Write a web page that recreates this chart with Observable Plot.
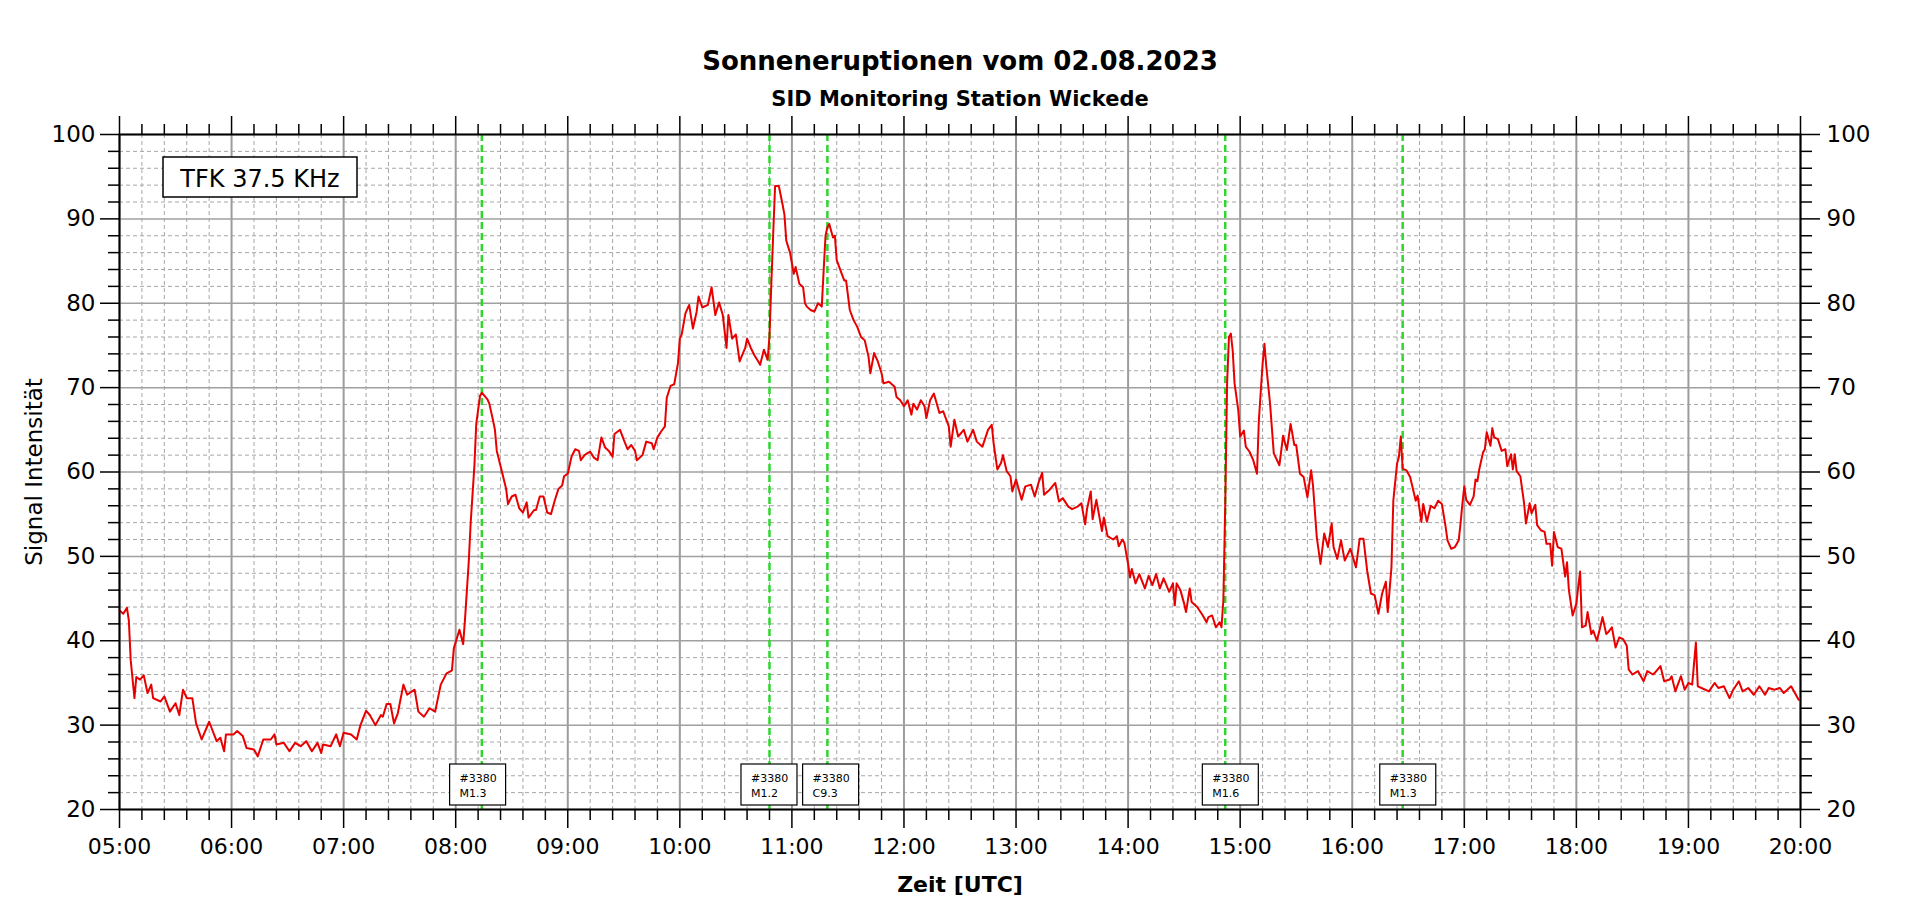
<!DOCTYPE html>
<html><head><meta charset="utf-8">
<script src="https://cdn.jsdelivr.net/npm/d3@7"></script>
<script src="https://cdn.jsdelivr.net/npm/@observablehq/plot@0.6"></script>
<style>
html,body{margin:0;padding:0;background:#fff;}
#chart svg{display:block;}
</style></head><body><div id="chart"></div>
<script>
const times = ["05:00","05:02","05:04","05:05","05:06","05:08","05:09","05:11","05:13","05:15","05:17","05:18","05:22","05:24","05:27","05:30","05:32","05:34","05:36","05:39","05:41","05:44","05:48","05:52","05:54","05:56","05:57","06:01","06:03","06:06","06:08","06:12","06:14","06:17","06:21","06:23","06:24","06:28","06:31","06:34","06:37","06:40","06:43","06:46","06:48","06:49","06:53","06:56","06:58","07:00","07:04","07:07","07:09","07:12","07:14","07:17","07:20","07:21","07:23","07:25","07:27","07:29","07:32","07:34","07:38","07:40","07:43","07:46","07:49","07:52","07:55","07:58","07:59",
"08:02","08:04","08:05","08:07","08:08","08:10","08:11","08:13","08:14","08:17","08:18","08:20","08:21","08:22","08:24","08:26","08:27","08:28","08:30","08:32","08:34","08:36","08:38","08:39","08:42","08:43","08:45","08:47","08:49","08:51","08:53","08:55","08:57","08:58","09:00","09:02","09:04","09:06","09:07","09:09","09:11","09:12","09:14","09:16","09:18","09:20","09:22","09:24","09:25","09:28","09:30","09:32","09:34","09:36","09:37","09:40","09:42","09:45","09:46","09:48","09:50","09:52","09:53","09:55","09:57","09:59","10:00","10:01","10:03","10:05","10:07","10:09","10:10","10:12","10:15","10:17","10:19","10:21","10:23","10:25","10:26","10:28","10:30","10:32","10:35","10:36","10:38","10:40","10:42","10:43","10:45","10:47","10:48","10:49","10:50","10:51","10:53","10:55","10:56","10:57","10:59",
"11:01","11:02","11:04","11:06","11:07","11:08","11:10","11:12","11:14","11:16","11:17","11:18","11:19","11:20","11:22","11:23","11:24","11:26","11:28","11:29","11:31","11:33","11:35","11:37","11:39","11:41","11:42","11:44","11:46","11:48","11:49","11:52","11:55","11:56","11:58","12:00","12:02","12:04","12:05","12:07","12:09","12:11","12:12","12:14","12:16","12:19","12:21","12:24","12:25","12:27","12:29","12:32","12:34","12:37","12:39","12:42","12:45","12:47","12:48","12:50","12:52","12:53","12:55","12:57","12:58","13:00","13:03","13:05","13:08","13:10","13:12","13:14","13:15","13:18","13:21","13:23","13:25","13:28","13:30","13:33","13:35","13:37","13:38","13:40","13:41","13:43","13:46","13:47","13:49","13:52","13:54","13:55","13:57","13:58",
"14:00","14:01","14:02","14:04","14:06","14:09","14:11","14:13","14:15","14:17","14:19","14:22","14:24","14:25","14:26","14:28","14:30","14:31","14:33","14:34","14:37","14:40","14:42","14:43","14:45","14:47","14:49","14:50","14:51","14:52","14:53","14:54","14:55","14:56","14:57","14:59","15:00","15:02","15:03","15:05","15:07","15:09","15:10","15:12","15:13","15:14","15:16","15:18","15:21","15:23","15:25","15:27","15:29","15:30","15:32","15:34","15:36","15:38","15:39","15:41","15:43","15:45","15:47","15:49","15:50","15:52","15:54","15:56","15:59","16:02","16:04","16:06","16:08","16:10","16:12","16:14","16:16","16:18","16:19","16:20","16:21","16:22","16:24","16:25","16:26","16:27","16:29","16:31","16:34","16:35","16:37","16:38","16:40","16:42","16:44","16:46","16:48","16:50","16:51","16:53","16:55","16:57","16:58","16:59",
"17:00","17:01","17:03","17:05","17:06","17:07","17:08","17:10","17:11","17:12","17:14","17:15","17:16","17:18","17:20","17:22","17:23","17:25","17:26","17:27","17:28","17:30","17:32","17:33","17:35","17:36","17:38","17:39","17:41","17:43","17:44","17:46","17:47","17:48","17:50","17:52","17:54","17:55","17:56","17:58","18:00","18:01","18:02","18:03","18:05","18:06","18:08","18:09","18:11","18:13","18:14","18:16","18:17","18:19","18:21","18:23","18:25","18:27","18:28","18:30","18:33","18:34","18:36","18:38","18:41","18:42","18:45","18:47","18:50","18:51","18:53","18:56","18:58","19:00","19:02","19:04","19:05","19:07","19:11","19:14","19:16","19:19","19:22","19:24","19:27","19:29","19:32","19:35","19:38","19:41","19:43","19:46","19:49","19:51","19:55","19:57","19:59"];
const signal = [43.6,43.2,43.9,42.4,37.7,33.2,35.7,35.4,35.9,33.8,34.8,33.2,32.8,33.4,31.6,32.6,31.2,34.2,33.2,33.2,30.2,28.3,30.4,28.1,28.5,26.9,28.9,28.9,29.3,28.7,27.3,27.1,26.3,28.3,28.3,28.9,27.7,27.9,26.9,27.9,27.5,28.1,26.9,27.9,26.7,27.7,27.5,28.9,27.5,29.1,28.9,28.3,30.0,31.7,31.2,30.0,31.2,31.0,32.5,32.5,30.2,31.4,34.8,33.6,34.2,31.6,31.0,32.0,31.6,34.8,36.1,36.5,39.1,
41.3,39.6,42.6,49.4,53.9,60.7,65.7,69.0,69.4,68.6,68.1,66.1,65.0,62.5,60.7,58.9,58.0,56.2,57.1,57.3,55.7,55.2,56.4,54.6,55.5,55.5,57.1,57.1,55.2,55.0,56.6,58.0,58.4,59.5,59.8,61.8,62.7,62.5,61.4,62.0,62.3,62.4,61.7,61.4,64.1,62.9,62.5,61.8,64.5,65.0,63.8,62.7,63.2,62.5,61.4,62.0,63.6,63.4,62.7,64.1,64.8,65.4,68.8,70.2,70.4,72.9,75.8,76.3,78.8,79.8,77.0,79.0,80.8,79.5,79.8,81.9,78.6,80.1,78.6,74.7,78.6,75.8,76.3,73.1,74.7,75.8,74.7,73.8,73.1,72.7,74.5,73.3,76.1,82.4,88.3,93.9,93.9,91.7,90.5,87.4,86.0,
83.5,84.3,82.3,81.9,80.0,79.6,79.2,79.0,80.0,79.6,83.9,88.0,89.0,89.4,87.8,88.0,85.1,83.9,82.7,82.7,79.2,78.0,77.2,76.0,75.6,73.7,71.7,74.1,73.1,71.7,70.5,70.7,70.1,68.9,68.5,67.8,68.5,66.8,68.1,67.4,68.5,67.8,66.4,68.5,69.3,67.0,67.2,65.4,63.0,66.2,64.2,65.0,63.6,65.0,63.6,63.0,65.0,65.6,63.4,60.3,61.1,62.0,60.1,59.5,57.7,59.1,56.7,58.3,58.5,57.1,58.7,59.9,57.3,57.9,58.7,56.5,56.9,55.9,55.6,55.9,56.3,53.8,55.6,57.7,54.4,56.7,53.0,54.6,52.4,52.0,52.4,51.2,52.0,51.6,
49.1,47.5,48.5,46.8,47.9,46.2,47.7,46.6,47.9,46.2,47.4,45.8,46.8,44.2,46.8,46.0,44.4,43.4,46.2,44.6,44.0,43.0,42.2,42.8,43.0,41.6,42.2,41.6,44.8,56.0,70.5,76.0,76.4,74.4,70.5,67.3,64.2,64.9,63.0,62.4,61.4,59.8,66.1,72.8,75.2,72.5,68.1,62.2,60.8,64.3,62.6,65.7,63.2,63.2,59.8,59.4,57.0,60.2,58.4,52.3,49.1,52.7,51.1,53.9,51.1,49.7,51.9,49.5,50.9,48.7,52.1,52.1,48.3,45.6,45.4,43.2,45.6,47.0,43.4,46.0,48.7,56.6,61.0,61.8,64.2,60.4,60.2,59.4,56.6,57.2,54.1,56.2,54.1,56.0,55.7,56.6,56.2,53.5,51.9,50.9,51.1,51.9,53.9,56.3,
58.3,56.7,56.1,57.1,59.1,58.9,60.3,62.3,62.7,64.7,63.1,65.2,64.1,63.9,62.5,62.7,60.7,62.1,60.3,62.1,60.1,59.5,56.3,53.9,56.3,55.1,56.1,53.7,53.1,52.9,51.5,51.5,48.9,52.9,51.1,50.9,47.6,49.3,46.0,43.0,44.4,46.4,48.2,41.6,41.8,43.4,40.8,41.2,40.0,41.8,42.8,40.8,41.0,41.6,39.2,40.4,40.2,39.4,36.6,36.0,36.4,36.0,35.2,36.4,36.0,36.2,37.0,35.2,35.4,35.8,34.0,35.8,34.2,35.0,34.8,39.8,34.6,34.4,34.0,35.0,34.4,34.6,33.2,34.2,35.2,34.0,34.4,33.6,34.6,33.6,34.4,34.2,34.4,33.8,34.6,33.8,33.0];

const flareTimes = ["08:14","10:48","11:19","14:52","16:27"];
const flareLabelTimes = ["08:12","10:48","11:21","14:55","16:30"];
const flareRegions = ["#3380","#3380","#3380","#3380","#3380"];
const flareClasses = ["M1.3","M1.2","C9.3","M1.6","M1.3"];
const xTickLabels = ["05:00","06:00","07:00","08:00","09:00","10:00","11:00","12:00","13:00","14:00","15:00","16:00","17:00","18:00","19:00","20:00"];
const yTicks = [20,30,40,50,60,70,80,90,100];
const titleText = "Sonneneruptionen vom 02.08.2023";
const subtitleText = "SID Monitoring Station Wickede";
const xLabel = "Zeit [UTC]";
const yLabel = "Signal Intensität";
const stationLabel = "TFK 37.5 KHz";

const toDate = s => { const [h, m] = s.split(":").map(Number); return new Date(Date.UTC(2023, 7, 2, h, m)); };
const data = times.map((t, i) => ({t: toDate(t), v: signal[i]}));
const majorX = xTickLabels.map(toDate);
const x0 = majorX[0], x1 = majorX[majorX.length - 1];
const minorX = d3.utcMinute.every(12).range(x0, x1).filter(d => d.getUTCMinutes() !== 0);
const minorY = d3.range(yTicks[0], yTicks[yTicks.length - 1], 2).filter(v => v % 10 !== 0);
const fmt = d3.utcFormat("%H:%M");
const blank = () => "";
const FONT = "DejaVu Sans";

const chart = Plot.plot({
  width: 1920, height: 904,
  marginLeft: 119, marginRight: 120, marginTop: 134, marginBottom: 95,
  style: {fontFamily: FONT, background: "#fff", color: "#000", overflow: "visible"},
  x: {type: "utc", domain: [x0, x1]},
  y: {domain: [yTicks[0], yTicks[yTicks.length - 1]]},
  marks: [
    Plot.ruleX(minorX, {stroke: "#a6a6a6", strokeWidth: 1, strokeDasharray: "4,3"}),
    Plot.ruleY(minorY, {stroke: "#a6a6a6", strokeWidth: 1, strokeDasharray: "4,3"}),
    Plot.ruleX(majorX, {stroke: "#9c9c9c", strokeWidth: 2}),
    Plot.ruleY(yTicks, {stroke: "#a0a0a0", strokeWidth: 1.5}),
    Plot.ruleX(flareTimes.map(toDate), {stroke: "#2ed62e", strokeWidth: 2.5, strokeDasharray: "7,4"}),
    Plot.line(data, {x: "t", y: "v", stroke: "#e80000", strokeWidth: 2}),
    Plot.frame({stroke: "#000", strokeWidth: 2}),
    Plot.axisX(majorX, {anchor: "bottom", tickSize: 19, tickPadding: 10, tickFormat: fmt, fontSize: 22, label: null, strokeWidth: 1.5}),
    Plot.axisX(minorX, {anchor: "bottom", tickSize: 11, tickFormat: blank, label: null, strokeWidth: 1.5}),
    Plot.axisX(majorX, {anchor: "top", tickSize: 19, tickFormat: blank, label: null, strokeWidth: 1.5}),
    Plot.axisX(minorX, {anchor: "top", tickSize: 11, tickFormat: blank, label: null, strokeWidth: 1.5}),
    Plot.axisY(yTicks, {anchor: "left", tickSize: 19, tickPadding: 5, fontSize: 23, label: null, strokeWidth: 1.5}),
    Plot.axisY(minorY, {anchor: "left", tickSize: 11, tickFormat: blank, label: null, strokeWidth: 1.5}),
    Plot.axisY(yTicks, {anchor: "right", tickSize: 19, tickPadding: 7, fontSize: 23, label: null, strokeWidth: 1.5}),
    Plot.axisY(minorY, {anchor: "right", tickSize: 11, tickFormat: blank, label: null, strokeWidth: 1.5}),
    Plot.text([titleText], {frameAnchor: "top", dy: -73, fontSize: 26, fontWeight: "bold", lineAnchor: "middle", textAnchor: "middle"}),
    Plot.text([subtitleText], {frameAnchor: "top", dy: -35, fontSize: 21, fontWeight: "bold", lineAnchor: "middle", textAnchor: "middle"}),
    Plot.text([xLabel], {frameAnchor: "bottom", dy: 75, fontSize: 22, fontWeight: "bold", lineAnchor: "middle", textAnchor: "middle"}),
    Plot.text([yLabel], {frameAnchor: "left", dx: -85, rotate: -90, fontSize: 23, lineAnchor: "middle", textAnchor: "middle"})
  ]
});

// annotation boxes, placed through the plot's own scales
const sx = chart.scale("x"), sy = chart.scale("y");
const svg = d3.select(chart);
const g = svg.append("g").attr("font-family", FONT).attr("text-anchor", "start").attr("fill", "#000");
const boxW = 56, boxH = 41;
const boxBottom = sy.apply(yTicks[0]) - 4;
flareLabelTimes.forEach((t, i) => {
  const cx = sx.apply(toDate(t));
  const left = cx - boxW / 2, top = boxBottom - boxH;
  g.append("rect").attr("x", left).attr("y", top).attr("width", boxW).attr("height", boxH)
    .attr("fill", "#fff").attr("stroke", "#000").attr("stroke-width", 1.2);
  g.append("text").attr("x", left + 10).attr("y", top + 18).attr("font-size", 11).attr("text-anchor", "start").text(flareRegions[i]);
  g.append("text").attr("x", left + 10).attr("y", top + 33).attr("font-size", 11).attr("text-anchor", "start").text(flareClasses[i]);
});
const fx = sx.apply(x0), fy = sy.apply(yTicks[yTicks.length - 1]);
g.append("rect").attr("x", fx + 44).attr("y", fy + 23).attr("width", 194).attr("height", 40)
  .attr("fill", "#fff").attr("stroke", "#000").attr("stroke-width", 1.5);
g.append("text").attr("x", fx + 44 + 97).attr("y", fy + 23 + 30).attr("text-anchor", "middle")
  .attr("font-size", 24).text(stationLabel);

document.getElementById("chart").appendChild(chart);
</script></body></html>
